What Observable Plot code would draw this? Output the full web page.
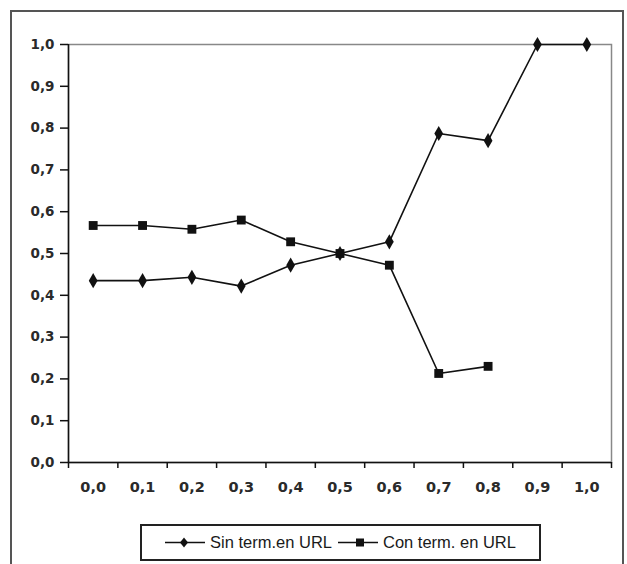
<!DOCTYPE html>
<html><head><meta charset="utf-8">
<script src="https://cdn.jsdelivr.net/npm/d3@7"></script>
<script src="https://cdn.jsdelivr.net/npm/@observablehq/plot@0.6"></script>
<style>
body{margin:0;background:#fff;font-family:"Liberation Sans",Arial,sans-serif;}
#wrap{position:relative;width:627px;height:564px;overflow:hidden;}
#border{position:absolute;left:10px;top:10px;width:614px;height:570px;border:2px solid #555;box-sizing:border-box;}
#chart{position:absolute;left:0;top:0;}
#legend{position:absolute;left:140px;top:524px;width:401px;height:37px;border:2px solid #222;box-sizing:border-box;display:flex;align-items:center;justify-content:center;gap:6px;font-size:16.5px;color:#1a1a1a;font-family:"Liberation Sans",Arial,sans-serif;}
#legend span{display:inline-flex;align-items:center;gap:5px;}
</style></head>
<body>
<div id="wrap"><div id="border"></div><div id="chart"></div><div id="legend"></div></div>
<script>
const categories = [0.0,0.1,0.2,0.3,0.4,0.5,0.6,0.7,0.8,0.9,1.0];
const xLabels = ["0,0","0,1","0,2","0,3","0,4","0,5","0,6","0,7","0,8","0,9","1,0"];
const sinTerm = [0.435,0.435,0.443,0.422,0.472,0.500,0.528,0.787,0.770,1.000,1.000];
const conTerm = [0.567,0.567,0.558,0.580,0.528,0.500,0.472,0.213,0.230,null,null];
const yTicks = [0,0.1,0.2,0.3,0.4,0.5,0.6,0.7,0.8,0.9,1.0];
const seriesNames = ["Sin term.en URL","Con term. en URL"];

const sinData = categories.map((c,i)=>({x:c,y:sinTerm[i]}));
const conData = categories.map((c,i)=>({x:c,y:conTerm[i]})).filter(d=>d.y!=null);
const bounds = [categories[0]-0.05, ...categories.map(c=>c+0.05)];
const fmt = d => d.toFixed(1).replace(".",",");

const plot = Plot.plot({
  width:627, height:515,
  marginLeft:68, marginRight:16, marginTop:44, marginBottom:53,
  style:{fontFamily:"'DejaVu Sans',Verdana,sans-serif",fontSize:"13.5px",color:"#222",background:"transparent"},
  x:{type:"linear",domain:[-0.05,1.05]},
  y:{domain:[0,1]},
  marks:[
    Plot.frame({stroke:"#888",strokeWidth:1.5}),
    Plot.ruleY([0],{stroke:"#111",strokeWidth:1.5}),
    Plot.ruleX([-0.05],{stroke:"#111",strokeWidth:1.5}),
    Plot.axisY({ticks:yTicks,tickFormat:fmt,tickSize:8,tickPadding:6,stroke:"#111",strokeWidth:1.5,label:null,fontWeight:"bold",fill:"#2a2a2a",fontSize:13.5}),
    Plot.axisX({ticks:bounds,tickFormat:()=>"",tickSize:6,stroke:"#111",strokeWidth:1.5,label:null}),
    Plot.axisX({ticks:categories,tickFormat:(d,i)=>xLabels[i],tickSize:0,tickPadding:19,label:null,fontWeight:"bold",fill:"#2a2a2a",fontSize:14.5}),
    Plot.line(sinData,{x:"x",y:"y",stroke:"#111",strokeWidth:1.6}),
    Plot.line(conData,{x:"x",y:"y",stroke:"#111",strokeWidth:1.6}),
    Plot.dot(sinData,{x:"x",y:"y",symbol:"diamond",r:4.6,fill:"#111",stroke:"none"}),
    Plot.dot(conData,{x:"x",y:"y",symbol:"square",r:5,fill:"#111",stroke:"none"})
  ]
});
document.getElementById("chart").appendChild(plot);

const leg = document.getElementById("legend");
const shapes = [
  '<path d="M19,1.5 L23,6.5 L19,11.5 L15,6.5Z" fill="#111"/>',
  '<rect x="18" y="2.5" width="8" height="8" fill="#111"/>'
];
seriesNames.forEach((n,i)=>{
  const s=document.createElement("span");
  s.innerHTML='<svg width="40" height="13"><line x1="0" y1="6.5" x2="40" y2="6.5" stroke="#111" stroke-width="1.6"/>'+shapes[i]+'</svg>'+n;
  leg.appendChild(s);
});
</script>
</body></html>
